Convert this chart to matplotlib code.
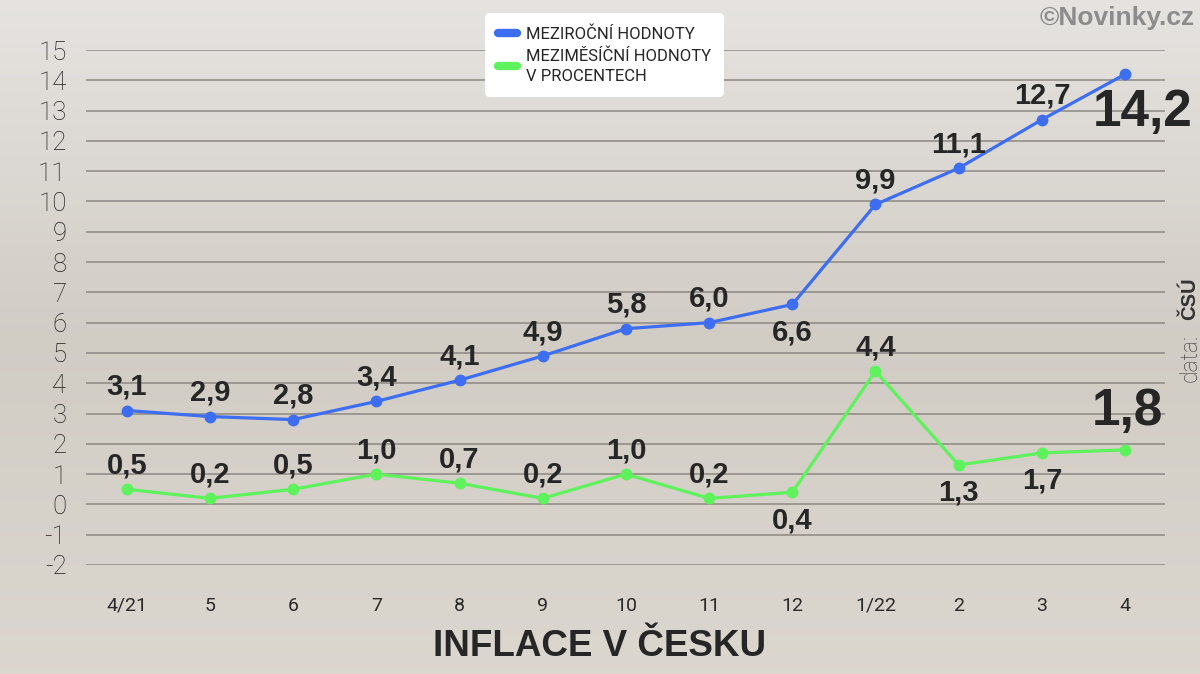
import numpy as np
import matplotlib.pyplot as plt
from matplotlib.lines import Line2D

months = ["4/21", "5", "6", "7", "8", "9", "10", "11", "12", "1/22", "2", "3", "4"]
yoy = [3.1, 2.9, 2.8, 3.4, 4.1, 4.9, 5.8, 6.0, 6.6, 9.9, 11.1, 12.7, 14.2]
mom = [0.5, 0.2, 0.5, 1.0, 0.7, 0.2, 1.0, 0.2, 0.4, 4.4, 1.3, 1.7, 1.8]
yticks = list(range(-2, 16))

# which labels go below their point
yoy_below = [8]
mom_below = [8, 10, 11]

BLUE = "#3d6ef2"
GREEN = "#5ef35c"
TXT = "#262626"

fig = plt.figure(figsize=(12, 6.74), dpi=100)

# background gradient
bg = fig.add_axes([0, 0, 1, 1], zorder=-10)
top = np.array([0.90, 0.89, 0.88])
mid = np.array([0.82, 0.80, 0.77])
bot = np.array([0.86, 0.84, 0.81])
t = np.linspace(0, 1, 200)[:, None]
col = np.where(t < 0.5, top + (mid - top) * (t / 0.5), mid + (bot - mid) * ((t - 0.5) / 0.5))
bg.imshow(col[:, None, :].repeat(2, axis=1), aspect="auto", extent=[0, 1, 0, 1])
bg.axis("off")

ax = fig.add_axes([86 / 1200, 109 / 674, 1079 / 1200, 515 / 674])
ax.set_facecolor("none")
x = np.arange(len(months))

ax.plot(x, yoy, color=BLUE, lw=2.3, marker="o", ms=7.5, zorder=3, clip_on=False)
ax.plot(x, mom, color=GREEN, lw=2.3, marker="o", ms=7.5, zorder=3, clip_on=False)

ax.set_xlim(-0.49, 12.48)
ax.set_ylim(-2, 15)
ax.set_yticks(yticks)
ax.set_yticklabels([str(v) for v in yticks], fontsize=18.5, color="#1e1e1e",
                   family="Roboto", fontweight="light")
ax.set_xticks(x)
ax.set_xticklabels(months, fontsize=14, color="#2a2a2a", family="Roboto")
ax.tick_params(axis="y", length=0, pad=14)
ax.tick_params(axis="x", length=0, pad=23)
ax.grid(axis="y", color="#8d8883", lw=1.1)
ax.set_axisbelow(True)
for s in ax.spines.values():
    s.set_visible(False)

def fmt(v):
    return f"{v:.1f}".replace(".", ",")

for i in range(len(months) - 1):
    for vals, below in ((yoy, yoy_below), (mom, mom_below)):
        v = vals[i]
        if i in below:
            ax.annotate(fmt(v), (i, v), xytext=(0, -10), textcoords="offset points",
                        ha="center", va="top", fontsize=21, fontweight="bold",
                        color=TXT, family="Liberation Sans")
        else:
            ax.annotate(fmt(v), (i, v), xytext=(0, 7), textcoords="offset points",
                        ha="center", va="bottom", fontsize=21, fontweight="bold",
                        color=TXT, family="Liberation Sans")

# last values, large
ax.annotate(fmt(yoy[-1]), (12, yoy[-1]), xytext=(13, -10), textcoords="offset points",
            ha="center", va="top", fontsize=37, fontweight="bold", color=TXT,
            family="Liberation Sans")
ax.annotate(fmt(mom[-1]), (12, mom[-1]), xytext=(2, 10), textcoords="offset points",
            ha="center", va="bottom", fontsize=37, fontweight="bold", color=TXT,
            family="Liberation Sans")

handles = [Line2D([], [], color=BLUE, lw=6, solid_capstyle="round"),
           Line2D([], [], color=GREEN, lw=6, solid_capstyle="round")]
leg = fig.legend(handles, ["MEZIROČNÍ HODNOTY", "MEZIMĚSÍČNÍ HODNOTY\nV PROCENTECH"],
                 loc="upper left", bbox_to_anchor=(480 / 1200, 1 - 8 / 674),
                 frameon=True, fancybox=True, framealpha=1, edgecolor="none",
                 facecolor="white", handlelength=1.1, handletextpad=0.55,
                 borderpad=0.6, labelspacing=0.4,
                 prop={"family": "Roboto", "size": 12})
for txt in leg.get_texts():
    txt.set_color(TXT)
    txt.set_linespacing(1.4)
leg.get_frame().set_boxstyle("round", pad=0.2, rounding_size=0.3)

fig.text(0.5, 1 - 647 / 674, "INFLACE V ČESKU", ha="center", va="center",
         fontsize=26.5, fontweight="bold", color=TXT, family="Liberation Sans")
fig.text(1195 / 1200, 1 - 18 / 674, "©Novinky.cz", ha="right", va="center",
         fontsize=19, fontweight="bold", color="#8c8c8c", family="Liberation Sans")
fig.text(1190 / 1200, 1 - 382 / 674, "data:", rotation=90, ha="center", va="bottom",
         fontsize=16.5, color="#4a4a4a", family="Roboto", fontweight="light")
fig.text(1190 / 1200, 1 - 320 / 674, "ČSÚ", rotation=90, ha="center", va="bottom",
         fontsize=14.5, color="#333333", family="Liberation Sans", fontweight="bold")

fig.savefig("out.png", dpi=100)
